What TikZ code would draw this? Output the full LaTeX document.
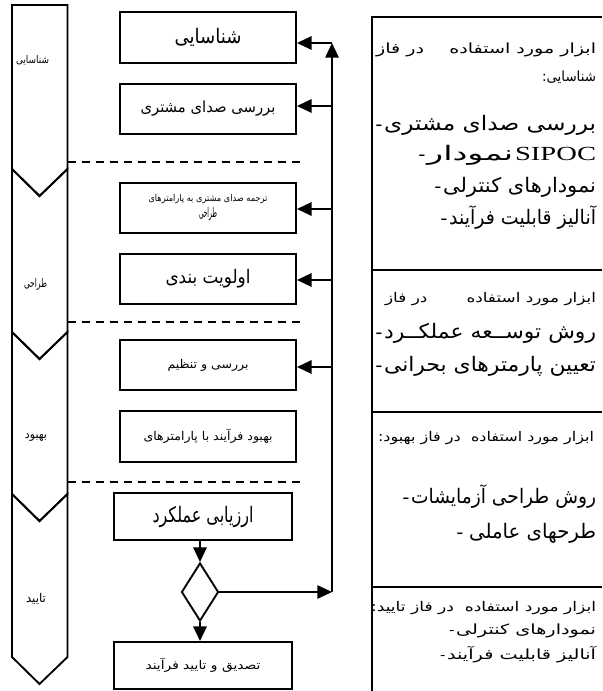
\documentclass[tikz,border=0pt]{standalone}
\usepackage{fontspec}
\usepackage{graphicx}
\setmainfont{Liberation Serif}
\newfontfamily\ar[Script=Arabic]{DejaVu Sans}
\TeXXeTstate=1
\usetikzlibrary{arrows.meta,shapes.geometric}
\newcommand{\R}[1]{\beginR #1\endR}
\newcommand{\fsz}[1]{\fontsize{#1}{1.2\dimexpr #1\relax}\selectfont}
\newsavebox\fitbox
\newlength\fitlen
\newcommand{\fitw}[2]{\sbox\fitbox{#2}\setlength\fitlen{\wd\fitbox}\pgfmathsetmacro\fitsx{(#1)*0.75/\fitlen}\scalebox{\fitsx}[1]{\usebox\fitbox}}
\begin{document}
\begin{tikzpicture}[x=0.75pt,y=-0.75pt,line width=1.4pt,
  lane/.style={draw,line width=1.4pt,line join=miter},
  pbox/.style={draw,line width=1.4pt,inner sep=0pt,font=\ar,align=center},
  sep/.style={dashed,dash pattern=on 6.5pt off 4pt,line width=1.4pt},
  arr/.style={-{Triangle[length=11pt,width=10pt]},line width=1.4pt},
  rline/.style={anchor=east,inner sep=0pt,font=\ar},
  dsh/.style={anchor=base east,inner sep=0pt},
  panel/.style={line width=1.4pt}]
\useasboundingbox (0,0) rectangle (602,691);
% phase column
\draw[lane] (12,5) -- (67.5,5) -- (67.5,169) -- (39.5,196) -- (12,169) -- cycle;
\draw[lane] (12,169) -- (39.5,196) -- (67.5,169) -- (67.5,332) -- (39.5,359) -- (12,332) -- cycle;
\draw[lane] (12,332) -- (39.5,359) -- (67.5,332) -- (67.5,494) -- (39.5,521) -- (12,494) -- cycle;
\draw[lane] (12,494) -- (39.5,521) -- (67.5,494) -- (67.5,657) -- (39.5,684) -- (12,657) -- cycle;
\node[font=\ar\fsz{8pt}] (l1) at (32.5,60) {\fitw{33}{\R{شناسایی}}};
\node[font=\ar\fsz{9pt}] (l2) at (35.5,284) {\fitw{23}{\R{طراحی}}};
\node[font=\ar\fsz{9pt}] (l3) at (36,437) {\fitw{22}{\R{بهبود}}};
\node[font=\ar\fsz{9pt}] (l4) at (36,599) {\fitw{20}{\R{تایید}}};
% dashed separators
\draw[sep] (67.5,162) -- (300,162);
\draw[sep] (67.5,322) -- (300,322);
\draw[sep] (67.5,482) -- (300,482);
% process boxes
\node[pbox,minimum width=176*0.75pt,minimum height=50.5*0.75pt] (b1) at (208,37.5) {\fsz{15pt}\fitw{67}{\R{شناسایی}}};
\node[pbox,minimum width=176*0.75pt,minimum height=50*0.75pt] (b2) at (208,109) {\fsz{11.5pt}\fitw{135}{\R{بررسی صدای مشتری}}};
\node[pbox,minimum width=176*0.75pt,minimum height=50*0.75pt] (b3) at (208,208) {\fontsize{7pt}{10.5pt}\selectfont\fitw{119}{\R{ترجمه صدای مشتری به پارامترهای}}\\\fitw{18}{\R{طراحی}}};
\node[pbox,minimum width=176*0.75pt,minimum height=50*0.75pt] (b4) at (208,279) {\fsz{14pt}\fitw{85}{\R{اولویت بندی}}};
\node[pbox,minimum width=176*0.75pt,minimum height=50*0.75pt] (b5) at (208,365) {\fsz{9pt}\fitw{81}{\R{بررسی و تنظیم}}};
\node[pbox,minimum width=176*0.75pt,minimum height=51*0.75pt] (b6) at (208,436.5) {\fsz{9pt}\fitw{129}{\R{بهبود فرآیند با پارامترهای}}};
\node[pbox,minimum width=178*0.75pt,minimum height=47*0.75pt] (b7) at (203,516.5) {\fsz{16pt}\fitw{101}{\R{ارزیابی عملکرد}}};
\node[draw,diamond,line width=1.4pt,inner sep=0pt,minimum width=37*0.75pt,minimum height=58*0.75pt] (d) at (200,592) {};
\node[pbox,minimum width=178*0.75pt,minimum height=47*0.75pt] (b8) at (203,665.5) {\fsz{9pt}\fitw{115}{\R{تصدیق و تایید فرآیند}}};
% flow
\draw[arr] (d.north |- b7.south) -- (d.north);
\draw[arr] (d.south) -- (d.south |- b8.north);
\coordinate (vb) at (332,592);
\coordinate (vt) at (332,43);
\draw[arr] (d.east) -- (vb);
\draw[arr] (vb) -- (vt);
\coordinate (v1) at (332,43);
\coordinate (v2) at (332,106);
\coordinate (v3) at (332,209);
\coordinate (v4) at (332,280);
\coordinate (v5) at (332,367);
\draw[arr] (v1) -- (v1 -| b1.east);
\draw[arr] (v2) -- (v2 -| b2.east);
\draw[arr] (v3) -- (v3 -| b3.east);
\draw[arr] (v4) -- (v4 -| b4.east);
\draw[arr] (v5) -- (v5 -| b5.east);
% tools panel
\draw[panel] (602,17) -- (372,17) -- (372,691);
\draw[panel] (372,270) -- (602,270);
\draw[panel] (372,412) -- (602,412);
\draw[panel] (372,587) -- (602,587);
% section 1
\node[rline,font=\ar\fsz{10.5pt}] (t11) at (597,50) {\fitw{220}{\R{ابزار مورد استفاده \quad در فاز}}};
\node[rline,font=\ar\fsz{10.5pt}] (t12) at (597,77) {\fitw{54}{\R{شناسایی:}}};
\node[rline,font=\ar\fsz{15pt}] (t13) at (597,125) {\fitw{212}{\R{بررسی صدای مشتری}}};
\node[dsh,font=\fsz{15pt}] (t13d) at (t13.base west) {-};
\node[dsh,font=\fsz{15pt}] (t14s) at (597,161) {\fitw{81}{SIPOC}};
\node[dsh,font=\ar\fsz{15pt}] (t14) at (t14s.base west) {\fitw{86}{\R{نمودار}}};
\node[dsh,font=\fsz{15pt}] (t14d) at (t14.base west) {-};
\node[rline,font=\ar\fsz{15pt}] (t15) at (597,187) {\fitw{153}{\R{نمودارهای کنترلی}}};
\node[dsh,font=\fsz{15pt}] (t15d) at (t15.base west) {-};
\node[rline,font=\ar\fsz{15pt}] (t16) at (597,218) {\fitw{147}{\R{آنالیز قابلیت فرآیند}}};
\node[dsh,font=\fsz{15pt}] (t16d) at (t16.base west) {-};
% section 2
\node[rline,font=\ar\fsz{10pt}] (t21) at (597,299) {\fitw{211}{\R{ابزار مورد استفاده \quad\quad در فاز}}};
\node[rline,font=\ar\fsz{15pt}] (t22) at (597,333) {\fitw{212}{\R{روش توســعه عملکــرد}}};
\node[dsh,font=\fsz{15pt}] (t22d) at (t22.base west) {-};
\node[rline,font=\ar\fsz{15pt}] (t23) at (597,366) {\fitw{212}{\R{تعیین پارمترهای بحرانی}}};
\node[dsh,font=\fsz{15pt}] (t23d) at (t23.base west) {-};
% section 3
\node[rline,font=\ar\fsz{10pt}] (t31) at (595,438) {\fitw{216}{\R{ابزار مورد استفاده\ \ در فاز بهبود:}}};
\node[rline,font=\ar\fsz{15pt}] (t32) at (597,497) {\fitw{185}{\R{روش طراحی آزمایشات}}};
\node[dsh,font=\fsz{15pt}] (t32d) at (t32.base west) {-};
\node[rline,font=\ar\fsz{15pt}] (t33) at (597,533) {\fitw{127}{\R{طرحهای عاملی}}};
\node[dsh,font=\fsz{15pt},xshift=-3pt] (t33d) at (t33.base west) {-};
% section 4
\node[rline,font=\ar\fsz{10pt}] (t41) at (597,608) {\fitw{225}{\R{ابزار مورد استفاده\ \ در فاز تایید:}}};
\node[rline,font=\ar\fsz{10.5pt}] (t42) at (597,631) {\fitw{140}{\R{نمودارهای کنترلی}}};
\node[dsh,font=\fsz{11pt}] (t42d) at (t42.base west) {-};
\node[rline,font=\ar\fsz{10.5pt}] (t43) at (597,655) {\fitw{149}{\R{آنالیز قابلیت فرآیند}}};
\node[dsh,font=\fsz{11pt}] (t43d) at (t43.base west) {-};
\end{tikzpicture}
\end{document}
